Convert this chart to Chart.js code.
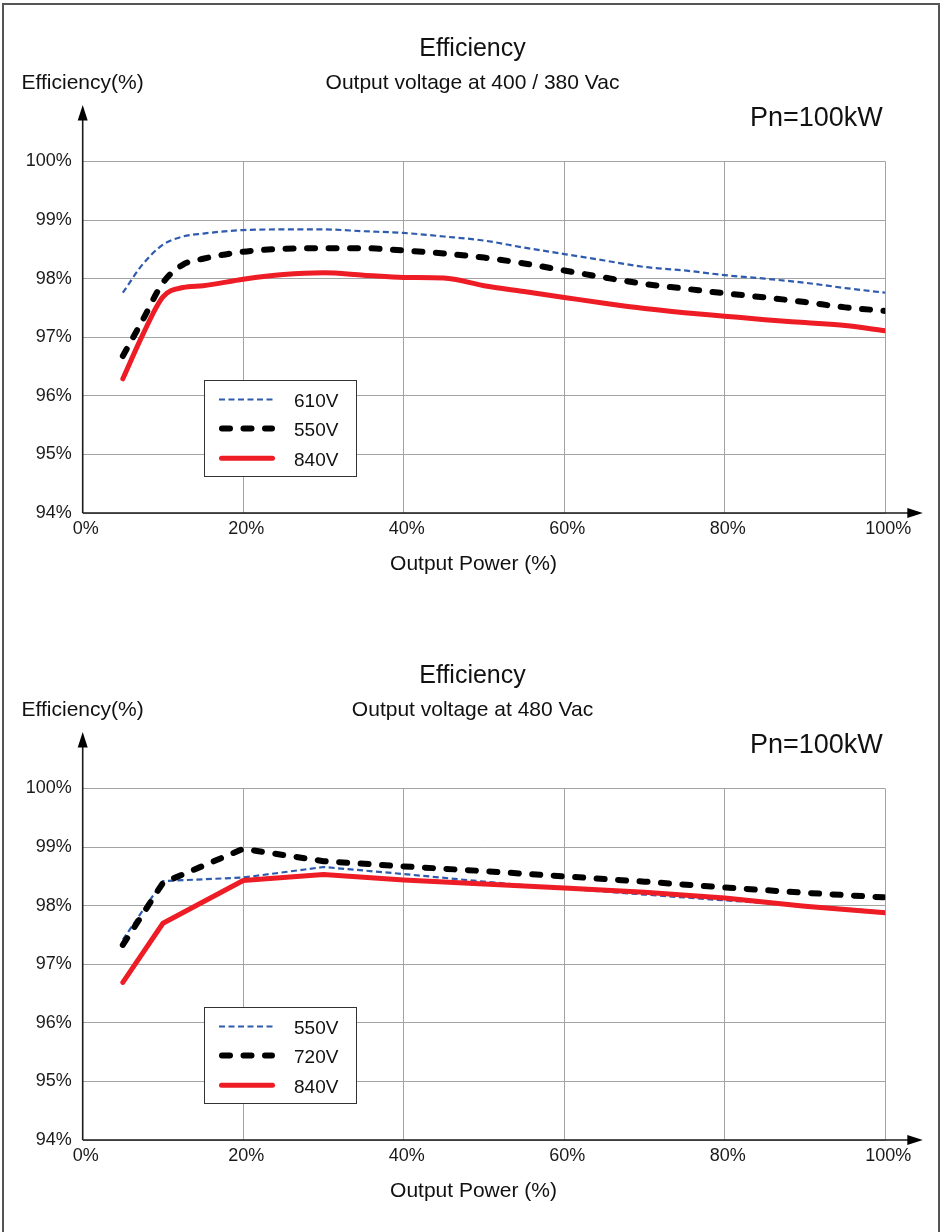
<!DOCTYPE html>
<html><head><meta charset="utf-8">
<script src="https://cdn.jsdelivr.net/npm/chart.js@4.4.1/dist/chart.umd.min.js"></script>
<style>
html,body{margin:0;padding:0;background:#fff;width:945px;height:1232px;overflow:hidden;}
#frame{position:absolute;left:2px;top:3px;width:938px;height:1260px;border:2px solid #555;box-sizing:border-box;}
canvas{position:absolute;left:0;}
#c1{top:0px}
#c2{top:627px}
</style></head><body>
<div id="frame"></div>
<canvas id="c1" width="945" height="600"></canvas>
<canvas id="c2" width="945" height="600"></canvas>
<script>
// ---------- data ----------
const xTickValues = [0, 20, 40, 60, 80, 100];
const yTickValues = [94, 95, 96, 97, 98, 99, 100];

// Chart 1: Output voltage at 400 / 380 Vac
const load1 = [5, 7.5, 10, 12.5, 15, 20, 25, 30, 35, 40, 45, 50, 55, 60, 65, 70, 75, 80, 85, 90, 95, 100];
const eff610V = [97.76, 98.25, 98.58, 98.72, 98.77, 98.83, 98.84, 98.84, 98.81, 98.78, 98.72, 98.65, 98.53, 98.42, 98.31, 98.20, 98.14, 98.06, 98.00, 97.93, 97.84, 97.76];
const eff550V = [96.68, 97.30, 97.93, 98.24, 98.34, 98.46, 98.51, 98.52, 98.52, 98.48, 98.43, 98.36, 98.26, 98.14, 98.02, 97.91, 97.83, 97.75, 97.68, 97.60, 97.51, 97.45];
const eff840V = [96.29, 97.05, 97.69, 97.85, 97.88, 97.99, 98.07, 98.10, 98.06, 98.02, 98.01, 97.88, 97.78, 97.68, 97.58, 97.49, 97.42, 97.36, 97.30, 97.25, 97.20, 97.11];

// Chart 2: Output voltage at 480 Vac
const load2 = [5, 10, 20, 30, 40, 50, 60, 70, 80, 90, 100];
const eff550V_480 = [97.42, 98.42, 98.48, 98.66, 98.54, 98.41, 98.29, 98.19, 98.09, 98.00, 97.90];
const eff720V_480 = [97.33, 98.39, 98.97, 98.76, 98.67, 98.59, 98.50, 98.41, 98.31, 98.22, 98.14];
const eff840V_480 = [96.69, 97.70, 98.43, 98.53, 98.44, 98.37, 98.30, 98.23, 98.13, 97.99, 97.88];

// ---------- styles ----------
const FONT = "'Liberation Sans', Arial, Helvetica, sans-serif";
const styleBlue  = {borderColor:'#2e5bae', borderWidth:2.2, borderDash:[6,3.5], order:3};
const styleBlack = {borderColor:'#000000', borderWidth:6, borderDash:[8,13.5], borderCapStyle:'round', order:2};
const styleRed   = {borderColor:'#ee1c25', borderWidth:5, borderCapStyle:'round', borderJoinStyle:'round', order:1};

const decor = {
  id: 'decor',
  afterDraw(chart, args, o) {
    const {ctx, chartArea: ca} = chart;
    ctx.save();
    // axes with arrows
    ctx.strokeStyle = '#1a1a1a'; ctx.fillStyle = '#000'; ctx.lineWidth = 1.6;
    ctx.beginPath();
    ctx.moveTo(ca.left, ca.bottom); ctx.lineTo(ca.left, ca.top - 42);
    ctx.moveTo(ca.left, ca.bottom); ctx.lineTo(ca.right + 24, ca.bottom);
    ctx.stroke();
    ctx.beginPath();
    ctx.moveTo(ca.left, ca.top - 56.5); ctx.lineTo(ca.left - 5, ca.top - 41); ctx.lineTo(ca.left + 5, ca.top - 41); ctx.closePath(); ctx.fill();
    ctx.beginPath();
    ctx.moveTo(ca.right + 37.5, ca.bottom); ctx.lineTo(ca.right + 22, ca.bottom - 5); ctx.lineTo(ca.right + 22, ca.bottom + 5); ctx.closePath(); ctx.fill();
    // texts
    ctx.fillStyle = '#111';
    ctx.textBaseline = 'middle';
    ctx.font = '21px ' + FONT; ctx.textAlign = 'left';
    ctx.fillText(o.yTitle, 21.5, 83);
    ctx.font = '27px ' + FONT; ctx.textAlign = 'right';
    ctx.fillText(o.note, ca.right - 2.5, ca.top - 43);
    ctx.font = '21px ' + FONT; ctx.textAlign = 'center';
    ctx.fillText(o.xTitle, chart.width / 2 + 1, ca.bottom + 51.5);
    // legend box
    const lx = 204.5, ly = 380.5, lw = 152, lh = 96;
    ctx.fillStyle = '#fff'; ctx.fillRect(lx, ly, lw, lh);
    ctx.strokeStyle = '#333'; ctx.lineWidth = 1; ctx.setLineDash([]);
    ctx.strokeRect(lx, ly, lw, lh);
    const rows = [399.5, 428.5, 458.3];
    chart.data.datasets.forEach((ds, i) => {
      const y = rows[i];
      ctx.save();
      ctx.strokeStyle = ds.borderColor; ctx.lineWidth = ds.borderWidth;
      ctx.lineCap = ds.borderCapStyle || 'butt';
      ctx.setLineDash(ds.borderDash || []);
      ctx.beginPath();
      const x0 = ds.borderCapStyle === 'round' ? 219 + ds.borderWidth/2 : 219;
      const x1 = ds.borderCapStyle === 'round' ? 275 - ds.borderWidth/2 : 275;
      ctx.moveTo(x0, y); ctx.lineTo(x1, y); ctx.stroke();
      ctx.restore();
      ctx.fillStyle = '#111'; ctx.font = '19px ' + FONT; ctx.textAlign = 'left'; ctx.textBaseline = 'middle';
      ctx.fillText(ds.label, 294, y + 2);
    });
    ctx.restore();
  }
};

function makeChart(id, subtitle, xs, series, smooth) {
  return new Chart(document.getElementById(id), {
    type: 'line',
    data: {
      datasets: series.map(s => Object.assign({
        label: s.label,
        data: xs.map((x, i) => ({x: x, y: s.values[i]})),
        pointRadius: 0,
        fill: false,
        tension: 0,
        cubicInterpolationMode: smooth ? 'monotone' : 'default'
      }, s.style))
    },
    options: {
      responsive: false,
      animation: false,
      devicePixelRatio: 1,
      layout: {padding: 0},
      plugins: {
        legend: {display: false},
        tooltip: {enabled: false},
        title: {display: true, text: 'Efficiency', color: '#111',
          font: {family: FONT, size: 25, weight: 'normal'}, padding: {top: 34, bottom: 6.4}},
        subtitle: {display: true, text: subtitle, color: '#111',
          font: {family: FONT, size: 21, weight: 'normal'}, padding: {top: 0, bottom: 65.9}},
        decor: {yTitle: 'Efficiency(%)', note: 'Pn=100kW', xTitle: 'Output Power (%)'}
      },
      scales: {
        x: {
          type: 'linear', min: 0, max: 100,
          afterBuildTicks: s => { s.ticks = xTickValues.map(v => ({value: v})); },
          afterFit: s => { s.height = 87; },
          grid: {color: '#a3a3a3', lineWidth: 1, drawTicks: false},
          border: {display: false},
          ticks: {color: '#1a1a1a', font: {family: FONT, size: 18}, padding: 5.7, labelOffset: 3,
            maxRotation: 0, callback: v => v + '%'}
        },
        y: {
          type: 'linear', min: 94, max: 100,
          afterBuildTicks: s => { s.ticks = yTickValues.map(v => ({value: v})); },
          afterFit: s => { s.width = 82.7; },
          grid: {color: '#a3a3a3', lineWidth: 1, drawTicks: false},
          border: {display: false},
          ticks: {color: '#1a1a1a', font: {family: FONT, size: 18}, padding: 11, callback: v => v + '%'}
        },
        yr: {
          type: 'linear', position: 'right', display: true,
          afterFit: s => { s.width = 59.7; },
          grid: {display: false}, border: {display: false}, ticks: {display: false}
        }
      }
    },
    plugins: [decor]
  });
}

makeChart('c1', 'Output voltage at 400 / 380 Vac', load1, [
  {label: '610V', values: eff610V, style: styleBlue},
  {label: '550V', values: eff550V, style: styleBlack},
  {label: '840V', values: eff840V, style: styleRed}
], true);

makeChart('c2', 'Output voltage at 480 Vac', load2, [
  {label: '550V', values: eff550V_480, style: styleBlue},
  {label: '720V', values: eff720V_480, style: styleBlack},
  {label: '840V', values: eff840V_480, style: styleRed}
], false);
</script>
</body></html>
